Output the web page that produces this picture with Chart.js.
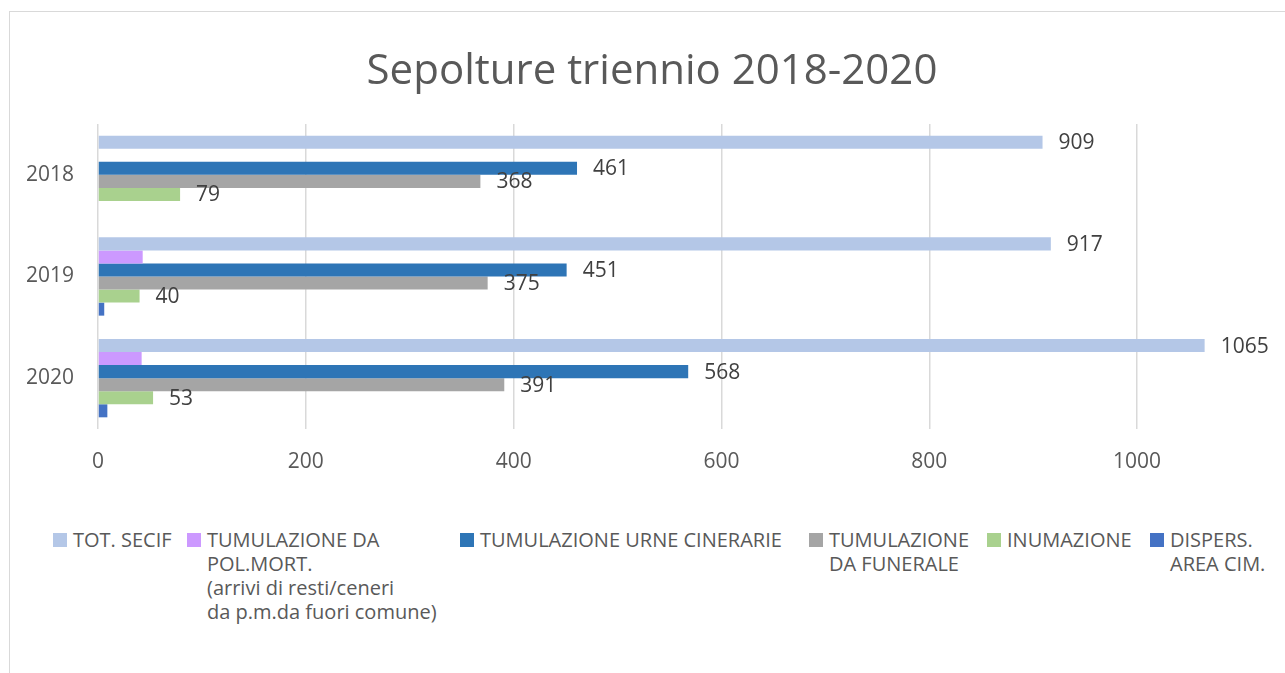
<!DOCTYPE html>
<html>
<head>
    <title>Sepolture triennio 2018-2020</title>
    <style>
        body {
            margin: 0;
            padding: 0;
            background: #ffffff;
            font-family: "Open Sans", sans-serif;
        }
        #wrap {
            position: relative;
            width: 1285px;
            height: 673px;
            overflow: hidden;
        }
        /* cornice grigia del grafico */
        #frame {
            position: absolute;
            left: 9px;
            top: 11px;
            width: 1400px;
            height: 800px;
            border: 1px solid #d9d9d9;
        }
        #myChart {
            position: absolute;
            left: 0;
            top: 0;
        }
        #titolo {
            position: absolute;
            left: 0;
            top: 43px;
            width: 1304px;
            text-align: center;
            color: #595959;
            font-size: 42px;
            line-height: 50px;
            white-space: nowrap;
        }
        .lg {
            position: absolute;
            color: #595959;
            font-size: 20px;
            line-height: 24px;
            white-space: nowrap;
        }
        .lg i {
            position: absolute;
            left: 0;
            top: 5px;
            width: 14px;
            height: 14px;
        }
        .lg span {
            display: block;
            margin-left: 20px;
        }
    </style>
    <script src="https://cdn.jsdelivr.net/npm/chart.js"></script>
</head>
<body>
<div id="wrap">
    <div id="frame"></div>
    <canvas id="myChart" width="1285" height="480"></canvas>
    <div id="titolo">Sepolture triennio 2018-2020</div>
</div>
<script>
    // Anni (categorie)
    const anni = ['2018', '2019', '2020'];

    // Nomi delle serie ('\n' = a capo nella legenda)
    const serie = [
        'TOT. SECIF',
        'TUMULAZIONE DA\nPOL.MORT.\n(arrivi di resti/ceneri\nda p.m.da fuori comune)',
        'TUMULAZIONE URNE CINERARIE',
        'TUMULAZIONE\nDA FUNERALE',
        'INUMAZIONE',
        'DISPERS.\nAREA CIM.'
    ];

    // Valori per serie
    const totSecif      = [909, 917, 1065];
    const tumPolMort    = [0, 43, 42];
    const tumUrne       = [461, 451, 568];
    const tumFunerale   = [368, 375, 391];
    const inumazione    = [79, 40, 53];
    const dispersione   = [0, 6, 9];

    // Tacche asse x
    const tickX = [0, 200, 400, 600, 800, 1000];

    const valori = [totSecif, tumPolMort, tumUrne, tumFunerale, inumazione, dispersione];
    const colori = ['#b4c7e7', '#cc99ff', '#2e75b6', '#a5a5a5', '#a9d18e', '#4472c4'];
    const conEtichetta = [true, false, true, true, true, false];
    const legendaX = [53, 187, 460, 809, 987, 1150]; // posizione dei quadratini

    // etichette dei valori a destra delle barre
    const etichette = {
        id: 'etichette',
        afterDatasetsDraw(chart) {
            const ctx = chart.ctx;
            ctx.save();
            ctx.font = '21px "Open Sans"';
            ctx.fillStyle = '#404040';
            ctx.textAlign = 'left';
            ctx.textBaseline = 'middle';
            chart.data.datasets.forEach((ds, i) => {
                if (!conEtichetta[i]) return;
                chart.getDatasetMeta(i).data.forEach((bar, j) => {
                    if (!ds.data[j]) return;
                    ctx.fillText(String(ds.data[j]), bar.x + 16, bar.y + 1);
                });
            });
            ctx.restore();
        }
    };

    const ctx = document.getElementById('myChart').getContext('2d');
    const myChart = new Chart(ctx, {
        type: 'bar',
        data: {
            labels: anni,
            datasets: serie.map((s, i) => ({
                label: s.replace(/\n/g, ' '),
                data: valori[i],
                backgroundColor: colori[i],
                borderWidth: 0,
                categoryPercentage: 0.77,
                barPercentage: 1
            }))
        },
        options: {
            indexAxis: 'y',
            responsive: false,
            animation: false,
            layout: { padding: { left: 10, right: 44, top: 124, bottom: 6 } },
            scales: {
                x: {
                    min: 0,
                    max: 1100,
                    afterBuildTicks: (scale) => {
                        scale.ticks = tickX.map(v => ({ value: v }));
                    },
                    afterFit: (scale) => { scale.height = 45; },
                    ticks: {
                        color: '#595959',
                        font: { family: 'Open Sans', size: 21 },
                        padding: 20,
                        callback: (v) => String(v)
                    },
                    grid: { color: '#d9d9d9', lineWidth: 1.5, drawTicks: false },
                    border: { display: false }
                },
                y: {
                    afterFit: (scale) => { scale.width = 88; },
                    ticks: { color: '#595959', font: { family: 'Open Sans', size: 21 }, padding: 24 },
                    grid: { display: false, drawTicks: false },
                    border: { display: false }
                }
            },
            plugins: {
                legend: { display: false },
                tooltip: { enabled: false },
                title: { display: false }
            }
        },
        plugins: [etichette]
    });

    // legenda in HTML (le voci vanno a capo come nell'originale)
    const wrap = document.getElementById('wrap');
    serie.forEach((s, i) => {
        const d = document.createElement('div');
        d.className = 'lg';
        d.style.left = legendaX[i] + 'px';
        d.style.top = '528px';
        let html = '<i style="background:' + colori[i] + '"></i>';
        s.split('\n').forEach(r => { html += '<span>' + r + '</span>'; });
        d.innerHTML = html;
        wrap.appendChild(d);
    });
</script>
</body>
</html>
